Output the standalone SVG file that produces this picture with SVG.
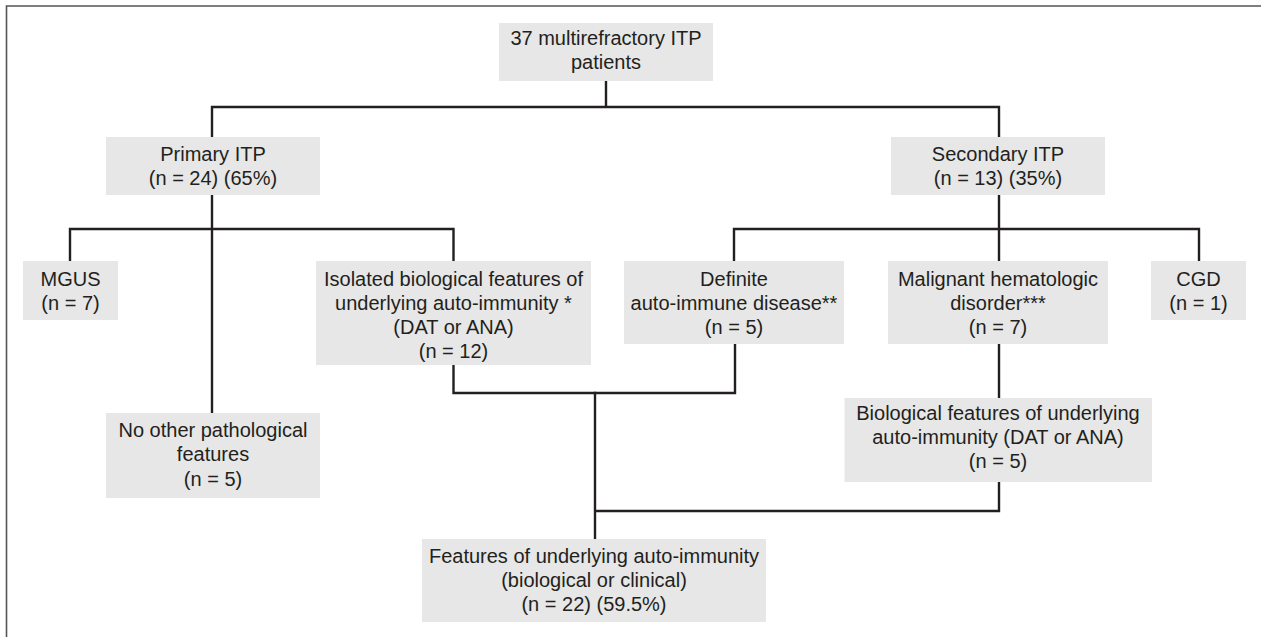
<svg xmlns="http://www.w3.org/2000/svg" width="1261" height="637" viewBox="0 0 1261 637">
<style>
.box{fill:#e6e7e6;stroke:none}
.t{font-family:"Liberation Sans",Arial,Helvetica,sans-serif;font-size:20px;fill:#231f20;text-anchor:middle}
.c{fill:none;stroke:#231f20;stroke-width:2.4;stroke-linecap:square}
.frame{fill:none;stroke:#555;stroke-width:1.6}
</style>
<rect width="1261" height="637" fill="#fff"/>
<path class="frame" d="M6.5,637 V6 H1261"/>
<g id="connectors">
<path class="c" d="M606,81 V107 M212,107 H999 M212,107 V137 M999,107 V137"/>
<path class="c" d="M212,195 V413 M70,229 H453.5 M70,229 V261 M453.5,229 V261"/>
<path class="c" d="M999,195 V261 M734,229 H1199 M734,229 V261 M1199,229 V261"/>
<path class="c" d="M453.5,365 V393 H735 V344"/>
<path class="c" d="M595,393 V539 M595,511 H999 V482 M999,344 V398"/>
</g>
<g id="n-total"><rect class="box" x="499" y="23" width="214" height="58"/>
<text class="t" x="606" y="45">37 multirefractory ITP</text><text class="t" x="606" y="69">patients</text></g>
<g id="n-primary"><rect class="box" x="106" y="137" width="214" height="58"/>
<text class="t" x="213" y="161">Primary ITP</text><text class="t" x="213" y="185">(n = 24) (65%)</text></g>
<g id="n-secondary"><rect class="box" x="891" y="137" width="214" height="58"/>
<text class="t" x="998" y="161">Secondary ITP</text><text class="t" x="998" y="185">(n = 13) (35%)</text></g>
<g id="n-mgus"><rect class="box" x="23" y="261" width="95" height="59"/>
<text class="t" x="70.5" y="285.5">MGUS</text><text class="t" x="70.5" y="309.5">(n = 7)</text></g>
<g id="n-isolated"><rect class="box" x="316" y="261" width="275" height="104"/>
<text class="t" x="453.5" y="285.5">Isolated biological features of</text><text class="t" x="453.5" y="309.5">underlying auto-immunity *</text><text class="t" x="453.5" y="333.5">(DAT or ANA)</text><text class="t" x="453.5" y="357.5">(n = 12)</text></g>
<g id="n-definite"><rect class="box" x="624" y="261" width="220" height="83"/>
<text class="t" x="734" y="285.5">Definite</text><text class="t" x="734" y="309.5">auto-immune disease**</text><text class="t" x="734" y="333.5">(n = 5)</text></g>
<g id="n-malignant"><rect class="box" x="888" y="261" width="220" height="83"/>
<text class="t" x="998" y="285.5">Malignant hematologic</text><text class="t" x="998" y="309.5">disorder***</text><text class="t" x="998" y="333.5">(n = 7)</text></g>
<g id="n-cgd"><rect class="box" x="1151" y="261" width="95" height="59"/>
<text class="t" x="1198.5" y="285.5">CGD</text><text class="t" x="1198.5" y="309.5">(n = 1)</text></g>
<g id="n-biological"><rect class="box" x="844.5" y="398" width="307.5" height="84"/>
<text class="t" x="998" y="420">Biological features of underlying</text><text class="t" x="998" y="444">auto-immunity (DAT or ANA)</text><text class="t" x="998" y="468">(n = 5)</text></g>
<g id="n-noother"><rect class="box" x="106" y="413" width="214" height="85"/>
<text class="t" x="213" y="437">No other pathological</text><text class="t" x="213" y="461">features</text><text class="t" x="213" y="485.5">(n = 5)</text></g>
<g id="n-features"><rect class="box" x="422" y="539" width="344" height="83"/>
<text class="t" x="594" y="562.5">Features of underlying auto-immunity</text><text class="t" x="594" y="586.5">(biological or clinical)</text><text class="t" x="594" y="610.5">(n = 22) (59.5%)</text></g>
</svg>
